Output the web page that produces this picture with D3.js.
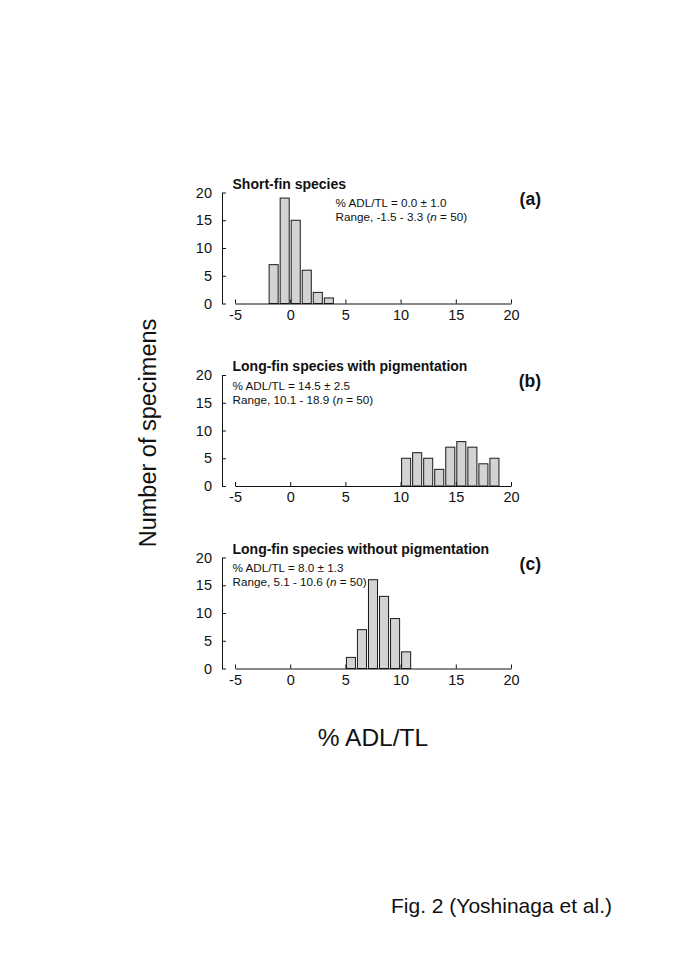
<!DOCTYPE html>
<html>
<head>
<meta charset="utf-8">
<script src="https://cdn.jsdelivr.net/npm/d3@7"></script>
<style>
  body { margin: 0; background: #fff; }
  text { font-family: "Liberation Sans", Arial, Helvetica, sans-serif; fill: #111; }
</style>
</head>
<body>
<div id="chart"></div>
<script>
// histogram data (bin centres, counts per bin)
var titles = ['Short-fin species', 'Long-fin species with pigmentation', 'Long-fin species without pigmentation'];
var letters = ['(a)', '(b)', '(c)'];
var meanLines = ['% ADL/TL = 0.0 \u00b1 1.0', '% ADL/TL = 14.5 \u00b1 2.5', '% ADL/TL = 8.0 \u00b1 1.3'];
var rangeLines = ['Range, -1.5 - 3.3 (', 'Range, 10.1 - 18.9 (', 'Range, 5.1 - 10.6 ('];
var sampleSizes = [50, 50, 50];

var centersA = [-1.5, -0.5, 0.5, 1.5, 2.5, 3.5];
var countsA = [7, 19, 15, 6, 2, 1];
var centersB = [10.5, 11.5, 12.5, 13.5, 14.5, 15.5, 16.5, 17.5, 18.5];
var countsB = [5, 6, 5, 3, 7, 8, 7, 4, 5];
var centersC = [5.5, 6.5, 7.5, 8.5, 9.5, 10.5];
var countsC = [2, 7, 16, 13, 9, 3];

var xTicks = [-5, 0, 5, 10, 15, 20];
var yTicks = [0, 5, 10, 15, 20];

var panels = [
  { centers: centersA, counts: countsA },
  { centers: centersB, counts: countsB },
  { centers: centersC, counts: countsC }
];

var W = 685, H = 969;
var svg = d3.select('#chart').append('svg')
  .attr('width', W)
  .attr('height', H);

var x = d3.scaleLinear().domain([-5, 20]).range([235, 511]);
var panelTop = 192.5, panelH = 111, panelStep = 182.5;
var yAxisX = 222;
var barW = 0.82;
// plain hyphen for negatives, like the original figure
var fmt = function (d) { return String(d); };

panels.forEach(function (p, i) {
  var top = panelTop + i * panelStep;
  var y = d3.scaleLinear().domain([0, 20]).range([top + panelH, top]);
  var g = svg.append('g');

  // bars
  g.selectAll('rect')
    .data(p.centers)
    .enter()
    .append('rect')
    .attr('x', function (d) { return x(d - barW / 2); })
    .attr('width', x(barW) - x(0))
    .attr('y', function (d, j) { return y(p.counts[j]); })
    .attr('height', function (d, j) { return y(0) - y(p.counts[j]); })
    .attr('fill', '#d3d3d3')
    .attr('stroke', '#1a1a1a')
    .attr('stroke-width', 1);

  // x axis, ticks pointing up
  var xa = g.append('g')
    .attr('transform', 'translate(0,' + y(0) + ')')
    .call(d3.axisBottom(x).tickValues(xTicks).tickFormat(fmt).tickSizeInner(-4).tickSizeOuter(0).tickPadding(6));

  // y axis, ticks pointing right
  var ya = g.append('g')
    .attr('transform', 'translate(' + yAxisX + ',0)')
    .call(d3.axisLeft(y).tickValues(yTicks).tickFormat(fmt).tickSizeInner(-4).tickSizeOuter(0).tickPadding(10));

  [xa, ya].forEach(function (a) {
    a.select('.domain').attr('stroke', '#111');
    a.selectAll('.tick line').attr('stroke', '#111');
    a.selectAll('.tick text')
      .style('font-family', '"Liberation Sans", Arial, sans-serif')
      .style('font-size', '14.5px')
      .attr('fill', '#111');
  });

  // panel title
  g.append('text')
    .attr('x', 232.5)
    .attr('y', top - 4)
    .style('font-size', '14px')
    .style('font-weight', 'bold')
    .text(titles[i]);

  // panel letter
  g.append('text')
    .attr('x', 541)
    .attr('y', top + 12)
    .attr('text-anchor', 'end')
    .style('font-size', '17.5px')
    .style('font-weight', 'bold')
    .text(letters[i]);

  // summary stats
  var sx = i === 0 ? 335.5 : 232.5;
  g.append('text')
    .attr('x', sx)
    .attr('y', top + 14.8)
    .style('font-size', '11.7px')
    .text(meanLines[i]);
  var t2 = g.append('text')
    .attr('x', sx)
    .attr('y', top + 28.5)
    .style('font-size', '11.7px');
  t2.append('tspan').text(rangeLines[i]);
  t2.append('tspan').style('font-style', 'italic').text('n');
  t2.append('tspan').text(' = ' + sampleSizes[i] + ')');
});

// shared axis titles
svg.append('text')
  .attr('transform', 'translate(156,433) rotate(-90)')
  .attr('text-anchor', 'middle')
  .style('font-size', '23.5px')
  .text('Number of specimens');

svg.append('text')
  .attr('x', 373)
  .attr('y', 746)
  .attr('text-anchor', 'middle')
  .style('font-size', '24.5px')
  .text('% ADL/TL');

svg.append('text')
  .attr('x', 612)
  .attr('y', 913)
  .attr('text-anchor', 'end')
  .style('font-size', '21px')
  .text('Fig. 2 (Yoshinaga et al.)');
</script>
</body>
</html>
